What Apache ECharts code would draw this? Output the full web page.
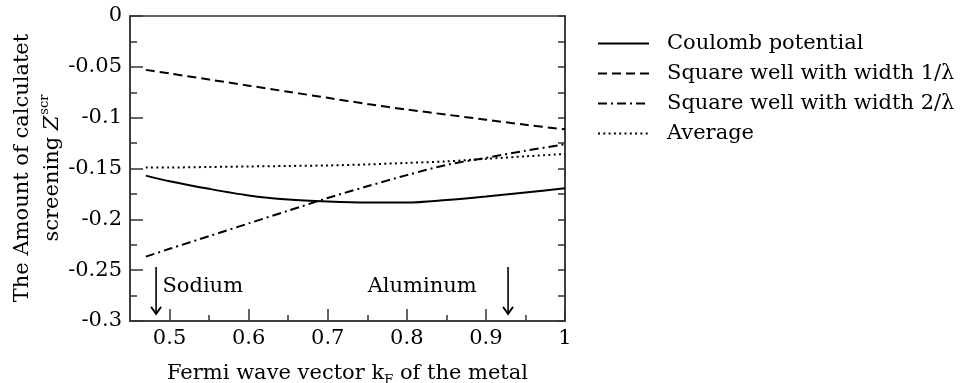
<!DOCTYPE html>
<html>
<head>
<meta charset="utf-8">
<script src="https://cdn.jsdelivr.net/npm/echarts@6/dist/echarts.min.js"></script>
<style>html,body{margin:0;padding:0;background:#fff}#c{width:966px;height:383px}</style>
</head>
<body>
<div id="c"></div>
<script>
var kF = [0.47, 0.5, 0.55, 0.6, 0.65, 0.7, 0.75, 0.8, 0.85, 0.9, 0.95, 1.0];
var coulomb = [-0.157, -0.1625, -0.170, -0.1765, -0.1805, -0.1825, -0.1835, -0.1835, -0.181, -0.1775, -0.1735, -0.1695];
var well1 = [-0.053, -0.0565, -0.0625, -0.0685, -0.0745, -0.0805, -0.0865, -0.092, -0.097, -0.102, -0.107, -0.1115];
var well2 = [-0.2367, -0.229, -0.2165, -0.204, -0.1915, -0.179, -0.1675, -0.1565, -0.1465, -0.1395, -0.1325, -0.1262];
var average = [-0.149, -0.149, -0.1485, -0.148, -0.1475, -0.147, -0.146, -0.1445, -0.143, -0.1405, -0.138, -0.1357];
var seriesNames = ['Coulomb potential', 'Square well with width 1/\u03bb', 'Square well with width 2/\u03bb', 'Average'];
var xMajorTicks = [0.5, 0.6, 0.7, 0.8, 0.9, 1.0];
var xMinorTicks = [0.55, 0.65, 0.75, 0.85, 0.95];
var metalNames = ['Sodium', 'Aluminum'];
var metalArrowX = [0.483, 0.928];
var metalLabelX = [0.491, 0.7505];
var arrowTop = -0.247;
var arrowBottom = -0.293;
var labelY = -0.2665;

var FONT = 'DejaVu Serif';
var INK = '#000';
var AX = '#333';

function pairs(ys) { return kF.map(function (x, i) { return [x, ys[i]]; }); }

var chart = echarts.init(document.getElementById('c'), null, { renderer: 'canvas' });

var lineDefs = [
  { data: coulomb, type: 'solid' },
  { data: well1, type: [9, 5] },
  { data: well2, type: [9, 4, 2, 4] },
  { data: average, type: [2, 3.3] }
];

var series = lineDefs.map(function (d, i) {
  return {
    name: seriesNames[i],
    type: 'line',
    xAxisIndex: 0,
    yAxisIndex: 0,
    data: pairs(d.data),
    smooth: 0.3,
    symbol: 'none',
    showSymbol: false,
    lineStyle: { color: INK, width: 2, type: d.type },
    itemStyle: { color: INK },
    animation: false,
    z: 3
  };
});

series.push({
  type: 'custom',
  name: 'annotations',
  coordinateSystem: 'cartesian2d',
  xAxisIndex: 0,
  yAxisIndex: 0,
  animation: false,
  silent: true,
  data: metalNames.map(function (n, i) { return [metalArrowX[i], metalLabelX[i], i]; }),
  renderItem: function (params, api) {
    var i = api.value(2);
    var ax = api.value(0);
    var lx = api.value(1);
    var top = api.coord([ax, arrowTop]);
    var bot = api.coord([ax, arrowBottom]);
    var lab = api.coord([lx, labelY]);
    return {
      type: 'group',
      children: [
        { type: 'line', shape: { x1: top[0], y1: top[1], x2: bot[0], y2: bot[1] }, style: { stroke: INK, lineWidth: 1.6 } },
        { type: 'polyline', shape: { points: [[bot[0] - 5, bot[1] - 7], [bot[0], bot[1]], [bot[0] + 5, bot[1] - 7]] }, style: { stroke: INK, lineWidth: 1.8, fill: null } },
        { type: 'text', x: lab[0], y: lab[1], style: { text: metalNames[i], font: '21px "' + FONT + '"', fill: INK, align: 'left', verticalAlign: 'middle' } }
      ]
    };
  }
});

var gridBox = { left: 130, right: 401, top: 16, bottom: 62, containLabel: false, outerBoundsMode: 'none' };

var option = {
  backgroundColor: '#fff',
  animation: false,
  grid: [
    Object.assign({ show: true, borderColor: AX, borderWidth: 1.5, backgroundColor: 'transparent' }, gridBox),
    Object.assign({ show: false }, gridBox)
  ],
  legend: {
    data: seriesNames,
    orient: 'vertical',
    left: 597,
    top: 33,
    padding: 0,
    itemWidth: 51,
    itemHeight: 14,
    itemGap: 9,
    selectedMode: false,
    itemStyle: { opacity: 0, color: 'transparent', borderColor: 'transparent', borderWidth: 0 },
    textStyle: { fontFamily: FONT, fontSize: 21, color: INK, padding: [0, 0, 0, 13] }
  },
  xAxis: [
    {
      gridIndex: 0,
      type: 'value', min: 0.45, max: 1.0, position: 'bottom',
      axisLine: { show: true, onZero: false, lineStyle: { color: AX, width: 1.5 } },
      axisTick: { show: true, inside: true, length: 12, customValues: xMajorTicks, lineStyle: { color: AX, width: 1.5 } },
      axisLabel: { customValues: xMajorTicks, fontFamily: FONT, fontSize: 21, color: INK, margin: 7,
        formatter: function (v) { return String(+v.toFixed(2)); } },
      splitLine: { show: false },
      name: '{n|Fermi wave vector k}{s|F}{n| of the metal}',
      nameLocation: 'middle',
      nameGap: 40,
      nameTextStyle: { rich: {
        n: { fontFamily: FONT, fontSize: 21, color: INK, lineHeight: 26 },
        s: { fontFamily: FONT, fontSize: 13, color: INK, verticalAlign: 'bottom', lineHeight: 14 }
      } }
    },
    {
      gridIndex: 1,
      type: 'value', min: 0.45, max: 1.0, position: 'bottom',
      axisLine: { show: false, onZero: false },
      axisTick: { show: true, inside: true, length: 6, customValues: xMinorTicks, lineStyle: { color: AX, width: 1.5 } },
      axisLabel: { show: false },
      splitLine: { show: false }
    }
  ],
  yAxis: [
    {
      gridIndex: 0,
      type: 'value', min: -0.3, max: 0, interval: 0.05, position: 'left',
      axisLine: { show: true, onZero: false, lineStyle: { color: AX, width: 1.5 } },
      axisTick: { show: true, inside: true, length: 13, lineStyle: { color: AX, width: 1.5 } },
      minorTick: { show: true, splitNumber: 2, length: 7, lineStyle: { color: AX, width: 1.5 } },
      axisLabel: { fontFamily: FONT, fontSize: 21, color: INK, margin: 8,
        formatter: function (v) { return String(+v.toFixed(3)); } },
      splitLine: { show: false }, minorSplitLine: { show: false }
    },
    {
      gridIndex: 0,
      type: 'value', min: -0.3, max: 0, interval: 0.05, position: 'right',
      axisLine: { show: true, onZero: false, lineStyle: { color: AX, width: 1.5 } },
      axisTick: { show: true, inside: true, length: 7, lineStyle: { color: AX, width: 1.5 } },
      minorTick: { show: true, splitNumber: 2, length: 7, lineStyle: { color: AX, width: 1.5 } },
      axisLabel: { show: false },
      splitLine: { show: false }, minorSplitLine: { show: false }
    },
    {
      gridIndex: 1,
      type: 'value', min: -0.3, max: 0, show: false
    }
  ],
  graphic: [
    {
      type: 'text',
      x: 38, y: 168,
      rotation: Math.PI / 2,
      style: {
        text: '{n|The Amount of calculatet}\n{n|screening }{z|Z}{s|scr}',
        align: 'center',
        verticalAlign: 'middle',
        rich: {
          n: { fontFamily: FONT, fontSize: 21, color: INK, lineHeight: 30 },
          z: { fontFamily: FONT, fontSize: 21, fontStyle: 'italic', color: INK, lineHeight: 30 },
          s: { fontFamily: FONT, fontSize: 13, color: INK, lineHeight: 30, verticalAlign: 'top', padding: [0, 0, 0, 1] }
        }
      }
    }
  ],
  series: series
};

chart.setOption(option);
</script>
</body>
</html>
